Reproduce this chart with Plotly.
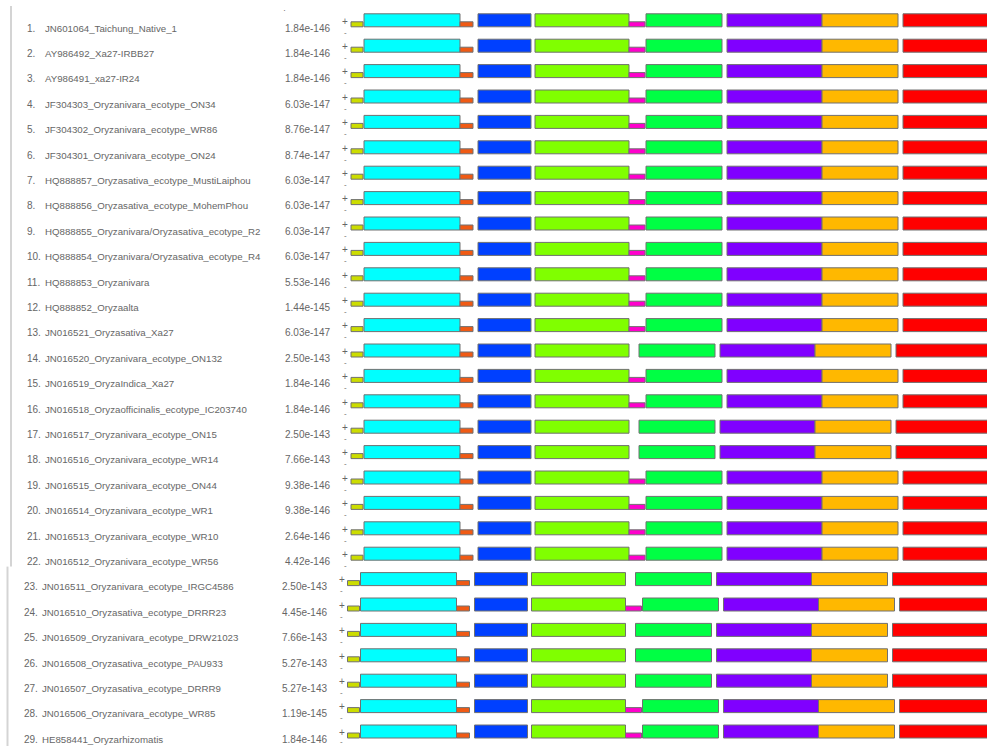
import plotly.graph_objects as go

# ---------------- data ----------------
seq_names = [
    "JN601064_Taichung_Native_1", "AY986492_Xa27-IRBB27", "AY986491_xa27-IR24",
    "JF304303_Oryzanivara_ecotype_ON34", "JF304302_Oryzanivara_ecotype_WR86",
    "JF304301_Oryzanivara_ecotype_ON24", "HQ888857_Oryzasativa_ecotype_MustiLaiphou",
    "HQ888856_Oryzasativa_ecotype_MohemPhou", "HQ888855_Oryzanivara/Oryzasativa_ecotype_R2",
    "HQ888854_Oryzanivara/Oryzasativa_ecotype_R4", "HQ888853_Oryzanivara", "HQ888852_Oryzaalta",
    "JN016521_Oryzasativa_Xa27", "JN016520_Oryzanivara_ecotype_ON132", "JN016519_OryzaIndica_Xa27",
    "JN016518_Oryzaofficinalis_ecotype_IC203740", "JN016517_Oryzanivara_ecotype_ON15",
    "JN016516_Oryzanivara_ecotype_WR14", "JN016515_Oryzanivara_ecotype_ON44",
    "JN016514_Oryzanivara_ecotype_WR1", "JN016513_Oryzanivara_ecotype_WR10",
    "JN016512_Oryzanivara_ecotype_WR56", "JN016511_Oryzanivara_ecotype_IRGC4586",
    "JN016510_Oryzasativa_ecotype_DRRR23", "JN016509_Oryzanivara_ecotype_DRW21023",
    "JN016508_Oryzasativa_ecotype_PAU933", "JN016507_Oryzasativa_ecotype_DRRR9",
    "JN016506_Oryzanivara_ecotype_WR85", "HE858441_Oryzarhizomatis",
]
p_values = [
    "1.84e-146", "1.84e-146", "1.84e-146", "6.03e-147", "8.76e-147", "8.74e-147",
    "6.03e-147", "6.03e-147", "6.03e-147", "6.03e-147", "5.53e-146", "1.44e-145",
    "6.03e-147", "2.50e-143", "1.84e-146", "1.84e-146", "2.50e-143", "7.66e-143",
    "9.38e-146", "9.38e-146", "2.64e-146", "4.42e-146", "2.50e-143", "4.45e-146",
    "7.66e-143", "5.27e-143", "5.27e-143", "1.19e-145", "1.84e-146",
]
# rows in which motif 6 (magenta) is absent
rows_without_m6 = [14, 17, 18, 23, 25, 26, 27]

motif_names = ["m1", "m2", "m3", "m4", "m5", "m6", "m7", "m8", "m9", "m10"]
motif_colors = ["#CCDD00", "#00FFFF", "#F05A14", "#0040FF", "#80FF00",
                "#FF00CC", "#00FF44", "#8000FF", "#FFB800", "#FF0000"]
motif_lengths = [12, 96, 13, 53, 94, 16, 76, 95, 76, 95]
site_strength = [0.4, 1, 0.4, 1, 1, 0.4, 1, 1, 1, 1]
starts_full = [0, 13, 109, 127, 184, 278, 295, 376, 471, 552]
starts_without_m6 = [0, 13, 109, 127, 184, None, 288, 369, 464, 545]

# ---------------- figure ----------------
W, H = 987, 746
X0 = 351            # pixel of sequence position 0
S = 25.4            # row spacing (px)
C1 = 20.5           # centre of first row (px)
SPLIT = 23          # the lower block of rows sits slightly further left
DX = 3.5

n = len(seq_names)
rows = list(range(1, n + 1))
groups = [("x", [r for r in rows if r < SPLIT]), ("x2", [r for r in rows if r >= SPLIT])]

fig = go.Figure()

box_h = 13 / S
bottom = 6.3 / S
for xa, grp in groups:
    for k, name in enumerate(motif_names):
        xs, bases, ys = [], [], []
        for r in grp:
            st = starts_without_m6[k] if r in rows_without_m6 else starts_full[k]
            if st is None:
                continue
            xs.append(motif_lengths[k])
            bases.append(st)
            ys.append(r)
        h = box_h if site_strength[k] >= 1 else 5 / S
        fig.add_trace(go.Bar(
            orientation="h", x=xs, base=bases, y=ys, name=name, xaxis=xa, yaxis="y",
            width=h, offset=bottom - h,
            marker=dict(color=motif_colors[k], line=dict(color="#707070", width=1)),
            showlegend=False, hoverinfo="skip",
        ))

ann = []
txt_col = "#666666"
fnt = "Liberation Sans, Arial, sans-serif"
for i, r in enumerate(rows):
    xr = "x" if r < SPLIT else "x2"
    ty = r + 7.5 / S
    ann.append(dict(x=25 - X0, y=ty, xref=xr, text=f"{r}.", xanchor="left", yanchor="middle",
                    showarrow=False, font=dict(size=10, color=txt_col, family=fnt)))
    ann.append(dict(x=43 - X0, y=ty, xref=xr, text=seq_names[i], xanchor="left", yanchor="middle",
                    showarrow=False, font=dict(size=9.7, color=txt_col, family=fnt)))
    ann.append(dict(x=332 - X0, y=ty, xref=xr, text=p_values[i], xanchor="right", yanchor="middle",
                    showarrow=False, font=dict(size=10, color=txt_col, family=fnt)))
    ann.append(dict(x=345 - X0, y=r + 0.5 / S, xref=xr, text="+", xanchor="center", yanchor="middle",
                    showarrow=False, font=dict(size=10, color="#666", family=fnt)))
    dash_off = 11.5 if r < n else 10.0
    ann.append(dict(x=345 - X0, y=r + dash_off / S, xref=xr, text="-",
                    xanchor="center", yanchor="middle", borderpad=0,
                    showarrow=False, font=dict(size=8, color="#666", family=fnt)))

ann.append(dict(x=284 - X0, y=1 - 11 / S, text="·", xanchor="center", yanchor="middle",
                showarrow=False, font=dict(size=9, color="#777", family=fnt)))

y_split = 1 - (C1 + (SPLIT - 1.5) * S) / H
shapes = [
    dict(type="line", xref="x", yref="paper", x0=11 - X0, x1=11 - X0, y0=1 - 6 / H, y1=y_split,
         line=dict(color="#d4d4d4", width=2)),
    dict(type="line", xref="x2", yref="paper", x0=11 - X0, x1=11 - X0, y0=y_split, y1=0,
         line=dict(color="#d4d4d4", width=2)),
]

fig.update_layout(
    width=W, height=H, margin=dict(l=0, r=0, t=0, b=0),
    paper_bgcolor="white", plot_bgcolor="white",
    barmode="overlay",
    xaxis=dict(range=[-X0, W - X0], visible=False, fixedrange=True),
    xaxis2=dict(range=[-X0 + DX, W - X0 + DX], visible=False, fixedrange=True,
                overlaying="x", anchor="y"),
    yaxis=dict(range=[1 + (H - C1) / S, 1 - C1 / S], visible=False, fixedrange=True),
    annotations=ann, shapes=shapes,
)

fig.write_html("out.html", config={"displayModeBar": False},
               post_script="document.body.style.margin='0px';")
